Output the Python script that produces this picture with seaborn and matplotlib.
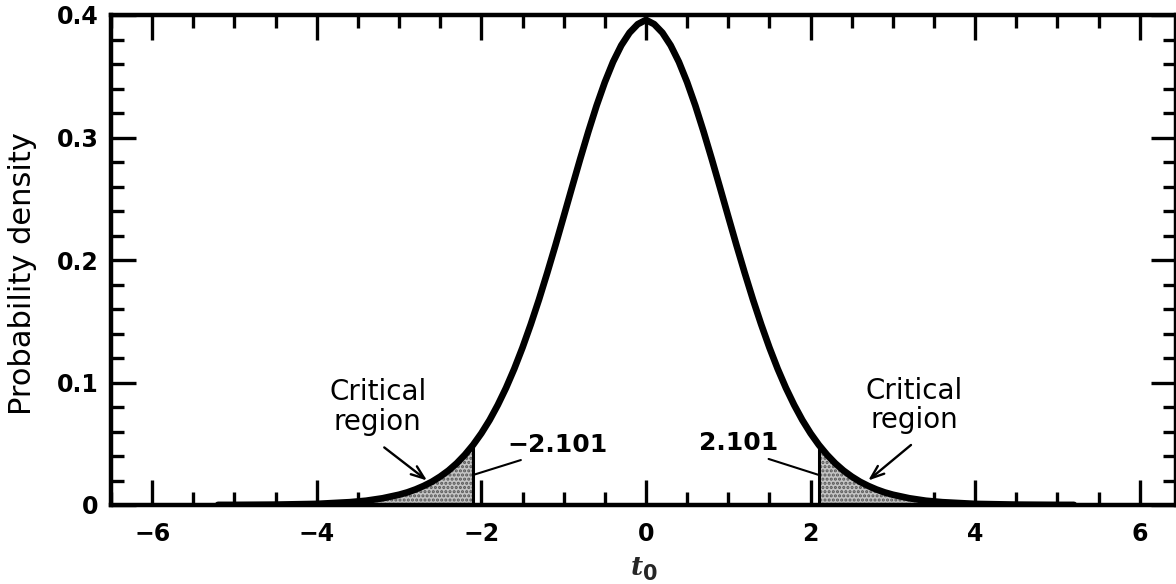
import numpy as np
import pandas as pd
import matplotlib
matplotlib.use("Agg")
import matplotlib.pyplot as plt
import seaborn as sns
from matplotlib.ticker import MultipleLocator, FixedLocator, FixedFormatter

# ---- data ----
t_values = [-5.2, -5.0, -4.5, -4.0, -3.6, -3.4, -3.2,
            -3.0, -2.9, -2.8, -2.7, -2.6, -2.5, -2.4, -2.3, -2.2, -2.1,
            -2.0, -1.9, -1.8, -1.7, -1.6, -1.5, -1.4, -1.3, -1.2, -1.1,
            -1.0, -0.9, -0.8, -0.7, -0.6, -0.5, -0.4, -0.3, -0.2, -0.1,
            0.0,
            0.1, 0.2, 0.3, 0.4, 0.5, 0.6, 0.7, 0.8, 0.9, 1.0,
            1.1, 1.2, 1.3, 1.4, 1.5, 1.6, 1.7, 1.8, 1.9, 2.0,
            2.1, 2.2, 2.3, 2.4, 2.5, 2.6, 2.7, 2.8, 2.9, 3.0,
            3.2, 3.4, 3.6, 4.0, 4.5, 5.0, 5.2]
density = [0.0001, 0.0001, 0.0003, 0.0009, 0.0023, 0.0035, 0.0055,
           0.0084, 0.0103, 0.0127, 0.0156, 0.0190, 0.0232, 0.0281, 0.0340, 0.0410, 0.0491,
           0.0585, 0.0693, 0.0817, 0.0956, 0.1112, 0.1285, 0.1474, 0.1677, 0.1894, 0.2120,
           0.2354, 0.2590, 0.2823, 0.3048, 0.3260, 0.3451, 0.3617, 0.3752, 0.3855, 0.3925,
           0.3960,
           0.3925, 0.3855, 0.3752, 0.3617, 0.3451, 0.3260, 0.3048, 0.2823, 0.2590, 0.2354,
           0.2120, 0.1894, 0.1677, 0.1474, 0.1285, 0.1112, 0.0956, 0.0817, 0.0693, 0.0585,
           0.0491, 0.0410, 0.0340, 0.0281, 0.0232, 0.0190, 0.0156, 0.0127, 0.0103, 0.0084,
           0.0055, 0.0035, 0.0023, 0.0009, 0.0003, 0.0001, 0.0001]
critical_value = 2.101
critical_density = 0.049

x_ticks = [-6, -4, -2, 0, 2, 4, 6]
x_tick_labels = ["\u22126", "\u22124", "\u22122", "0", "2", "4", "6"]
y_ticks = [0.0, 0.1, 0.2, 0.3, 0.4]
y_tick_labels = ["0", "0.1", "0.2", "0.3", "0.4"]
y_label = "Probability density"
region_label = "Critical\nregion"
left_crit_label = "\u22122.101"
right_crit_label = "2.101"

df = pd.DataFrame({"t": t_values, "pdf": density})

# ---- style ----
sns.set_theme(style="ticks")
plt.rcParams["font.family"] = ["DejaVu Sans"]
plt.rcParams["hatch.linewidth"] = 1.5

fig = plt.figure(figsize=(11.76, 5.84), dpi=100)
W, H = 1176, 584
ax = fig.add_axes([111 / W, 79 / H, 1065 / W, 490 / H])

# shaded critical regions
tt = np.asarray(t_values)
pp = np.asarray(density)
mask_r = tt > critical_value
xr = np.concatenate([[critical_value], tt[mask_r]])
yr = np.concatenate([[critical_density], pp[mask_r]])
mask_l = tt < -critical_value
xl = np.concatenate([tt[mask_l], [-critical_value]])
yl = np.concatenate([pp[mask_l], [critical_density]])
for xs, ys in ((xl, yl), (xr, yr)):
    ax.fill_between(xs, 0, ys, facecolor="#c4c4c4", edgecolor="#555555",
                    hatch="....", linewidth=0, zorder=1)
ax.vlines([-critical_value, critical_value], 0, critical_density,
          colors="black", linewidth=2.2, zorder=2)

# main curve
sns.lineplot(data=df, x="t", y="pdf", color="black", linewidth=4.8,
             ax=ax, zorder=3, sort=False)

ax.set_xlim(-6.5, 6.44)
ax.set_ylim(0, 0.4)

ax.xaxis.set_major_locator(FixedLocator(x_ticks))
ax.xaxis.set_major_formatter(FixedFormatter(x_tick_labels))
ax.xaxis.set_minor_locator(MultipleLocator(0.5))
ax.yaxis.set_major_locator(FixedLocator(y_ticks))
ax.yaxis.set_major_formatter(FixedFormatter(y_tick_labels))
ax.yaxis.set_minor_locator(MultipleLocator(0.02))

ax.tick_params(which="both", direction="in", top=True, right=True,
               width=2.4, color="black")
ax.tick_params(which="major", length=18)
ax.tick_params(which="minor", length=9.5)
ax.tick_params(axis="x", which="major", pad=12)
ax.tick_params(axis="y", which="major", pad=9)
for lab in ax.get_xticklabels() + ax.get_yticklabels():
    lab.set_fontsize(17)
    lab.set_fontweight("bold")
    lab.set_color("black")

for sp in ax.spines.values():
    sp.set_linewidth(3.2)
    sp.set_color("black")
    sp.set_visible(True)

ax.set_xlabel("")
ax.set_ylabel(y_label, fontsize=22, color="black")
ax.yaxis.set_label_coords(-0.0695, 0.473)

# x label t_0
fig.text(637 / W, (584 - 575) / H, "t", family="DejaVu Serif", style="italic",
         weight="bold", fontsize=19, ha="center", va="baseline")
fig.text(643 / W, (584 - 580) / H, "0", family="DejaVu Sans",
         weight="bold", fontsize=15, ha="left", va="baseline")

# annotations
ax.text(-3.26, 0.080, region_label, ha="center", va="center", fontsize=20,
        linespacing=1.05, color="black")
ax.text(3.26, 0.081, region_label, ha="center", va="center", fontsize=20,
        linespacing=1.05, color="black")
arrow = dict(arrowstyle="->,head_length=0.8,head_width=0.3", color="black",
             lw=1.7, shrinkA=0, shrinkB=0)
ax.annotate("", xy=(-2.66, 0.020), xytext=(-3.18, 0.047), arrowprops=arrow)
ax.annotate("", xy=(2.70, 0.020), xytext=(3.22, 0.049), arrowprops=arrow)

ax.text(-1.08, 0.049, left_crit_label, ha="center", va="center", fontsize=18,
        fontweight="bold", color="black")
ax.text(1.12, 0.0506, right_crit_label, ha="center", va="center", fontsize=18,
        fontweight="bold", color="black")
line = dict(arrowstyle="-", color="black", lw=1.5, shrinkA=0, shrinkB=0)
ax.annotate("", xy=(-critical_value, 0.0245), xytext=(-1.52, 0.0367), arrowprops=line)
ax.annotate("", xy=(critical_value, 0.0245), xytext=(1.49, 0.0376), arrowprops=line)

fig.savefig("out.png", dpi=100, facecolor="white")
